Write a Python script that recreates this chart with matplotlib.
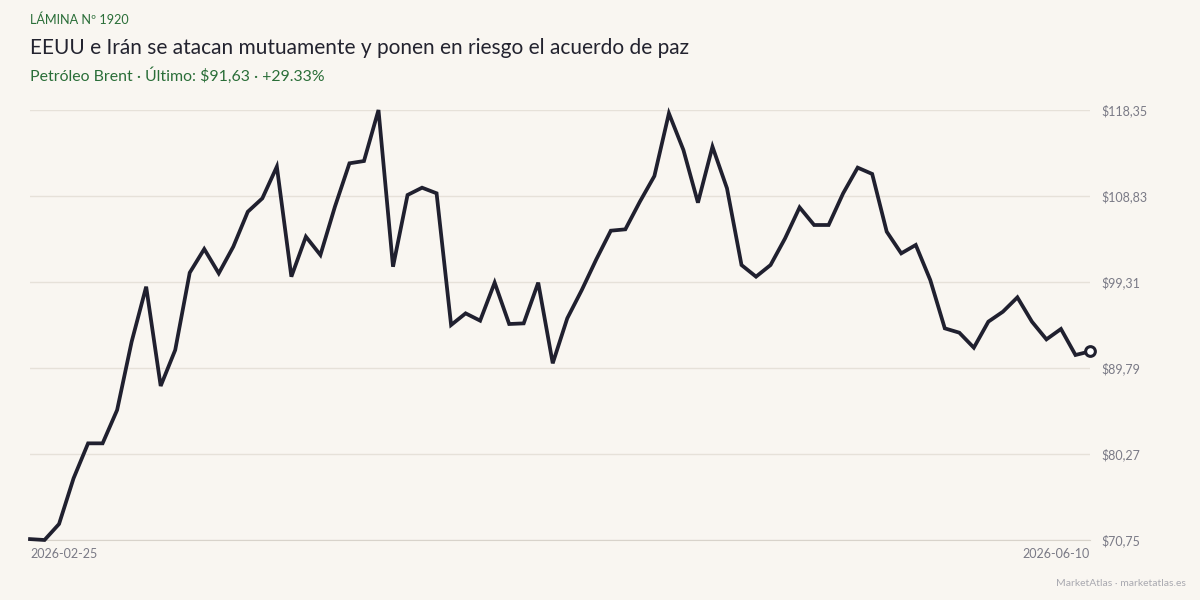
import matplotlib
matplotlib.use("Agg")
import matplotlib.pyplot as plt
import numpy as np
import pandas as pd

plt.rcParams['font.family'] = ['Lato', 'DejaVu Sans']

# trading days, Good Friday and Memorial Day skipped
dates = pd.bdate_range("2026-02-25", "2026-06-10", freq="C",
                       holidays=["2026-04-03", "2026-05-25"])
prices = [70.85, 70.75, 72.52, 77.58, 81.45, 81.45, 85.14, 92.70, 98.79, 87.80,
          91.78, 100.34, 102.96, 100.27, 103.22, 107.09, 108.57, 112.08, 99.90, 104.33,
          102.30, 107.65, 112.45, 112.70, 118.35, 101.00, 108.94, 109.75, 109.13, 94.55,
          95.84, 95.03, 99.24, 94.66, 94.73, 99.24, 90.31, 95.29, 98.42, 101.82,
          104.99, 105.14, 108.20, 111.04, 117.98, 113.92, 108.09, 114.29, 109.68, 101.19,
          99.90, 101.19, 104.14, 107.57, 105.62, 105.62, 109.13, 111.97, 111.27, 104.88,
          102.48, 103.41, 99.53, 94.18, 93.70, 92.04, 94.92, 96.02, 97.61, 94.92,
          92.96, 94.11, 91.23, 91.63]
y_ticks = [70.75, 80.27, 89.79, 99.31, 108.83, 118.35]
y_labels = ["$70,75", "$80,27", "$89,79", "$99,31", "$108,83", "$118,35"]

bg = "#f9f6f1"
ink = "#20202f"
green = "#2a6e38"
grey = "#7a7a86"

fig = plt.figure(figsize=(12, 6), dpi=100, facecolor=bg)
ax = fig.add_axes([30/1200, 60/600, 1060/1200, 430/600], facecolor=bg)

x = np.arange(len(prices))
ax.plot(x, prices, color=ink, lw=2.7, solid_joinstyle="miter", zorder=3, clip_on=False)
ax.plot(x[-1], prices[-1], "o", ms=7, mfc="white", mec=ink, mew=2.2, zorder=4, clip_on=False)

ax.set_xlim(0, len(prices) - 1)
ax.set_ylim(y_ticks[0], y_ticks[-1])
ax.set_yticks(y_ticks)
ax.set_yticklabels(y_labels)
ax.yaxis.tick_right()
ax.grid(axis="y", color="#e6e1d9", lw=1)
ax.set_xticks([0, len(prices) - 1])
ax.set_xticklabels([dates[0].strftime("%Y-%m-%d"), dates[-1].strftime("%Y-%m-%d")])
ax.get_xticklabels()[0].set_ha("left")
ax.get_xticklabels()[1].set_ha("right")
ax.tick_params(axis="both", length=0, labelsize=9, labelcolor=grey)
ax.tick_params(axis="y", pad=8)
ax.tick_params(axis="x", pad=6)
for s in ["top", "right", "left"]:
    ax.spines[s].set_visible(False)
ax.spines["bottom"].set_color("#d8d3cb")

fig.text(30/1200, 1 - 20/600, "LÁMINA Nº 1920", color=green, fontsize=9.1, va="center")
fig.text(30/1200, 1 - 48/600, "EEUU e Irán se atacan mutuamente y ponen en riesgo el acuerdo de paz",
         color="#23232f", fontsize=15, va="center")
fig.text(30/1200, 1 - 76/600, "Petróleo Brent · Último: $91,63 · +29.33%", color=green,
         fontsize=11.4, va="center")
fig.text(1186/1200, 1 - 583/600, "MarketAtlas · marketatlas.es", color="#a9a9b0",
         fontsize=7.5, ha="right", va="center")

fig.savefig("out.png", dpi=100, facecolor=bg)
